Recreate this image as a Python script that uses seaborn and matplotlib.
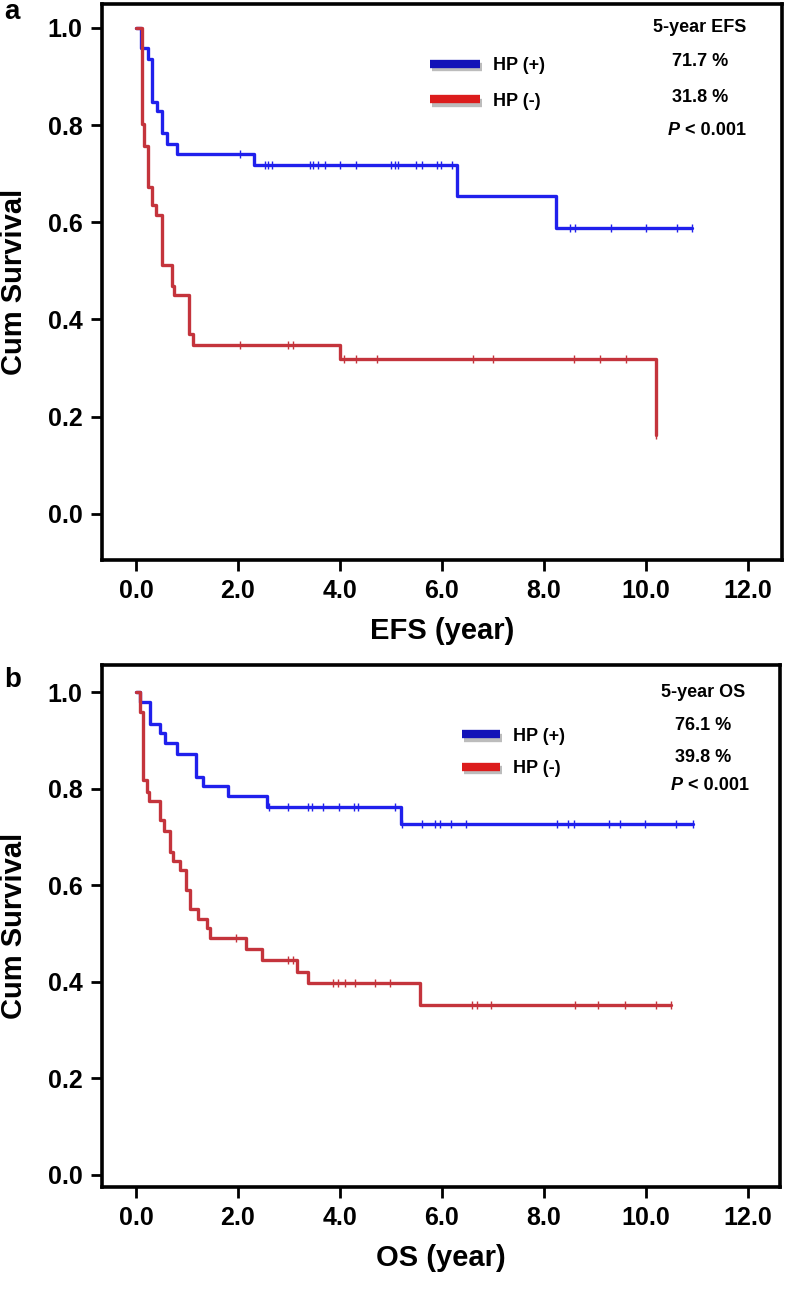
import numpy as np
import pandas as pd
import matplotlib
matplotlib.use("Agg")
import matplotlib.pyplot as plt
import matplotlib.patheffects as pe
from matplotlib.lines import Line2D
import seaborn as sns

# EFS, HP(+) : event times / survival after each step, censor times
efs_pos_time = [0.10, 0.24, 0.31, 0.41, 0.50, 0.60, 0.81, 2.31, 6.30, 8.24]
efs_pos_surv = [0.958, 0.935, 0.848, 0.828, 0.783, 0.761, 0.741, 0.717, 0.653, 0.588]
efs_pos_cens = [2.03, 2.53, 2.59, 2.66, 3.41, 3.48, 3.56, 3.71, 4.00, 4.31, 5.01, 5.08,
                5.14, 5.50, 5.60, 5.90, 5.99, 6.19, 8.52, 8.61, 9.31, 10.01, 10.61, 10.91]

# EFS, HP(-)
efs_neg_time = [0.11, 0.16, 0.24, 0.31, 0.39, 0.50, 0.70, 0.75, 1.03, 1.11, 4.00, 10.20]
efs_neg_surv = [0.803, 0.756, 0.673, 0.636, 0.615, 0.512, 0.469, 0.451, 0.370, 0.348, 0.318, 0.163]
efs_neg_cens = [2.03, 2.99, 3.08, 4.07, 4.31, 4.72, 6.60, 7.00, 8.60, 9.10, 9.62, 10.20]

# OS, HP(+)
os_pos_time = [0.08, 0.27, 0.48, 0.57, 0.81, 1.18, 1.32, 1.80, 2.56, 5.19]
os_pos_surv = [0.980, 0.934, 0.915, 0.894, 0.872, 0.825, 0.805, 0.784, 0.762, 0.726]
os_pos_cens = [2.60, 2.99, 3.38, 3.46, 3.66, 3.99, 4.27, 4.36, 5.08, 5.22, 5.60, 5.86,
               5.97, 6.17, 6.48, 8.25, 8.48, 8.59, 9.28, 9.49, 9.99, 10.59, 10.92]

# OS, HP(-)
os_neg_time = [0.08, 0.14, 0.21, 0.26, 0.47, 0.54, 0.67, 0.72, 0.86, 0.98, 1.05, 1.22,
               1.39, 1.46, 2.15, 2.48, 3.15, 3.38, 5.57]
os_neg_surv = [0.959, 0.818, 0.794, 0.775, 0.734, 0.713, 0.669, 0.651, 0.631, 0.590, 0.550,
               0.531, 0.511, 0.490, 0.467, 0.445, 0.421, 0.397, 0.352]
os_neg_cens = [1.97, 2.99, 3.07, 3.87, 3.97, 4.10, 4.29, 4.69, 4.98, 6.58, 6.68, 6.97,
               8.61, 9.07, 9.59, 10.20, 10.50]

groups = ["HP (+)", "HP (-)"]
x_ticks = [0, 2, 4, 6, 8, 10, 12]
y_ticks = [0.0, 0.2, 0.4, 0.6, 0.8, 1.0]

efs_stats = ["5-year EFS", "71.7 %", "31.8 %"]
os_stats = ["5-year OS", "76.1 %", "39.8 %"]

CURVE_COLORS = {"HP (+)": "#2020ec", "HP (-)": "#c4343c"}
LEGEND_COLORS = {"HP (+)": "#1212b8", "HP (-)": "#dc1c1c"}
SANS = ["Liberation Sans", "DejaVu Sans"]

sns.set_style("white")
plt.rcParams["font.family"] = ["Liberation Sans Narrow", "Liberation Sans", "DejaVu Sans"]
plt.rcParams["font.weight"] = "bold"
plt.rcParams["text.color"] = "black"
plt.rcParams["axes.labelcolor"] = "black"
plt.rcParams["xtick.color"] = "black"
plt.rcParams["ytick.color"] = "black"


def km_frames(times, surv, cens, group):
    end = max(max(cens), times[-1])
    t = [0.0] + list(times) + [end]
    s = [1.0] + list(surv) + [surv[-1]]
    curve = pd.DataFrame({"time": t, "surv": s, "group": group})
    idx = np.searchsorted(np.array(times), np.array(cens), side="right")
    s_arr = np.array([1.0] + list(surv))
    marks = pd.DataFrame({"time": cens, "surv": s_arr[idx], "group": group})
    return curve, marks


def plot_km(ax, pos, neg, xlabel, stats, legend_anchor, handlelen, labelspace, stat_xy):
    for g, (times, surv, cens) in zip(groups, [pos, neg]):
        curve, marks = km_frames(times, surv, cens, g)
        sns.lineplot(data=curve, x="time", y="surv", drawstyle="steps-post",
                     estimator=None, sort=False, color=CURVE_COLORS[g], lw=2.4, ax=ax)
        sns.scatterplot(data=marks, x="time", y="surv", marker="|", s=40,
                        linewidth=1.0, color=CURVE_COLORS[g], ax=ax, zorder=3)

    ax.set_xticks(x_ticks)
    ax.set_xticklabels([f"{v:.1f}" for v in x_ticks])
    ax.set_yticks(y_ticks)
    ax.set_yticklabels([f"{v:.1f}" for v in y_ticks])
    ax.tick_params(axis="both", direction="out", length=8, width=2, labelsize=18,
                   color="black", labelcolor="black", pad=6, bottom=True, left=True)
    for sp in ax.spines.values():
        sp.set_linewidth(2.6)
        sp.set_color("black")
    ax.set_xlabel(xlabel, fontsize=21, fontweight="bold", labelpad=10, color="black")
    ax.set_ylabel("Cum Survival", fontsize=21, fontweight="bold", labelpad=14, color="black")

    shadow = [pe.SimpleLineShadow(offset=(1.5, -2.5), alpha=0.35, shadow_color="#404040"),
              pe.Normal()]
    handles = [Line2D([], [], color=LEGEND_COLORS[g], lw=6, solid_capstyle="butt",
                      path_effects=shadow) for g in groups]
    leg = ax.legend(handles, groups, loc="upper left", bbox_to_anchor=legend_anchor,
                    frameon=False, borderpad=0, borderaxespad=0, handlelength=handlelen,
                    handletextpad=0.7, labelspacing=labelspace,
                    prop={"family": SANS, "weight": "bold", "size": 13})
    for t in leg.get_texts():
        t.set_color("black")

    sx, sy = stat_xy
    txt = dict(transform=ax.transAxes, ha="center", va="center", fontsize=13,
               fontweight="bold", family=SANS, color="black")
    for s, yy in zip(stats, sy[:3]):
        ax.text(sx, yy, s, **txt)
    ax.text(sx - 0.03, sy[3], "P", transform=ax.transAxes, ha="right", va="center",
            fontsize=13, fontweight="bold", fontstyle="italic", family=SANS, color="black")
    ax.text(sx - 0.022, sy[3], "< 0.001", transform=ax.transAxes, ha="left", va="center",
            fontsize=13, fontweight="bold", family=SANS, color="black")


W, H = 785, 1292
fig = plt.figure(figsize=(W / 100, H / 100), dpi=100)

ax_a = fig.add_axes([102 / W, 1 - 560 / H, 680 / W, 556 / H])
ax_a.set_xlim(-0.667, 12.67)
ax_a.set_ylim(-0.095, 1.049)
plot_km(ax_a, (efs_pos_time, efs_pos_surv, efs_pos_cens),
        (efs_neg_time, efs_neg_surv, efs_neg_cens),
        "EFS (year)", efs_stats, (0.482, 0.905), 2.8, 1.05,
        (0.879, [0.957, 0.896, 0.831, 0.773]))

ax_b = fig.add_axes([102 / W, 1 - 1187 / H, 678 / W, 522 / H])
ax_b.set_xlim(-0.667, 12.63)
ax_b.set_ylim(-0.025, 1.056)
plot_km(ax_b, (os_pos_time, os_pos_surv, os_pos_cens),
        (os_neg_time, os_neg_surv, os_neg_cens),
        "OS (year)", os_stats, (0.531, 0.880), 2.1, 0.85,
        (0.886, [0.948, 0.885, 0.822, 0.770]))

fig.text(4 / W, 1 - 12 / H, "a", fontsize=20, fontweight="bold", va="center",
         family=SANS, color="black")
fig.text(4 / W, 1 - 680 / H, "b", fontsize=20, fontweight="bold", va="center",
         family=SANS, color="black")

fig.savefig("out.png", dpi=100)
